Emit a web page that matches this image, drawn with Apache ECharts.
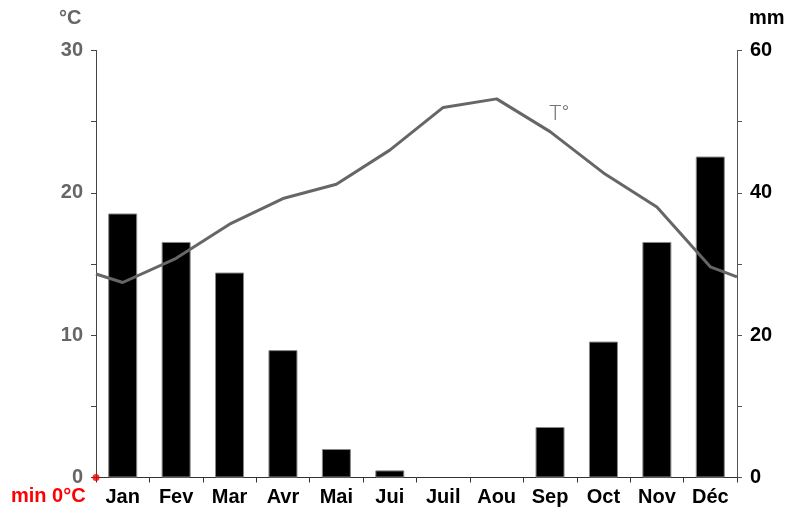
<!DOCTYPE html>
<html>
<head>
<meta charset="utf-8">
<script src="https://cdn.jsdelivr.net/npm/echarts@6/dist/echarts.min.js"></script>
<style>
  html, body { margin: 0; padding: 0; background: #fff; }
  #chart { width: 791px; height: 508px; }
</style>
</head>
<body>
<div id="chart"></div>
<script>
// Climate diagram: monthly precipitation (bars, mm) and mean temperature (line, °C)
const months = ['Jan', 'Fev', 'Mar', 'Avr', 'Mai', 'Jui', 'Juil', 'Aou', 'Sep', 'Oct', 'Nov', 'Déc'];
const precipitation = [37.1, 33.1, 28.8, 17.9, 4.0, 1.0, 0, 0, 7.1, 19.1, 33.1, 45.1];
const temperature = [13.7, 15.4, 17.8, 19.6, 20.6, 23.0, 26.0, 26.6, 24.3, 21.4, 19.0, 14.8];
// temperature at the left and right edges of the year
const tempStart = 14.3;
const tempEnd = 14.1;
const tempMin = 0;
const tempTicks = [0, 10, 20, 30];
const rainTicks = [0, 20, 40, 60];

const font = '"Liberation Sans", Arial, Helvetica, sans-serif';

// line points sit at the middle of each month, plus both year edges
const tempLine = [[0, tempStart]]
  .concat(temperature.map((t, i) => [i + 0.5, t]))
  .concat([[months.length, tempEnd]]);

// dry months get no outline so nothing is drawn on the axis
const rainBars = precipitation.map(v => ({
  value: v,
  itemStyle: v > 0 ? {} : { borderWidth: 0, opacity: 0 }
}));

const chart = echarts.init(document.getElementById('chart'), null, { renderer: 'canvas' });

chart.setOption({
  animation: false,
  grid: { left: 96, right: 54, top: 50.5, bottom: 30.5, containLabel: false },
  xAxis: [
    {
      type: 'category',
      data: months,
      boundaryGap: true,
      axisLine: { show: true, lineStyle: { color: '#333', width: 1 } },
      axisTick: { show: true, alignWithLabel: false, length: 5, lineStyle: { color: '#333' } },
      axisLabel: { color: '#000', fontFamily: font, fontWeight: 'bold', fontSize: 20, margin: 10 },
      splitLine: { show: false }
    },
    {
      type: 'value',
      min: 0,
      max: months.length,
      show: false
    }
  ],
  yAxis: [
    {
      type: 'value',
      min: 0,
      max: 30,
      interval: 5,
      position: 'left',
      axisLine: { show: true, lineStyle: { color: '#444', width: 1 } },
      axisTick: { show: true, inside: false, length: 5, lineStyle: { color: '#444' } },
      axisLabel: {
        color: '#666', fontFamily: font, fontWeight: 'bold', fontSize: 20, margin: 13,
        formatter: v => tempTicks.includes(v) ? String(v) : ''
      },
      splitLine: { show: false }
    },
    {
      type: 'value',
      min: 0,
      max: 60,
      interval: 10,
      position: 'right',
      axisLine: { show: true, lineStyle: { color: '#555', width: 1 } },
      axisTick: { show: true, inside: false, length: 5, lineStyle: { color: '#555' } },
      axisLabel: {
        color: '#000', fontFamily: font, fontWeight: 'bold', fontSize: 20, margin: 13,
        formatter: v => rainTicks.includes(v) ? String(v) : ''
      },
      splitLine: { show: false }
    }
  ],
  series: [
    {
      type: 'bar',
      name: 'mm',
      xAxisIndex: 0,
      yAxisIndex: 1,
      data: rainBars,
      barWidth: 29,
      itemStyle: { color: '#000', borderColor: '#888', borderWidth: 1 }
    },
    {
      type: 'line',
      name: 'T°',
      xAxisIndex: 1,
      yAxisIndex: 0,
      data: tempLine,
      showSymbol: false,
      symbol: 'none',
      lineStyle: { color: '#666', width: 3 },
      z: 5
    },
    {
      type: 'scatter',
      name: 'min',
      xAxisIndex: 1,
      yAxisIndex: 0,
      data: [[0, tempMin]],
      symbol: 'circle',
      symbolSize: 7,
      itemStyle: { color: '#e00' },
      clip: false,
      z: 20,
      zlevel: 1
    }
  ],
  graphic: [
    {
      type: 'text', left: 59, top: 8,
      style: { text: '°C', fill: '#666', font: 'bold 20px ' + font }
    },
    {
      type: 'text', left: 749, top: 8,
      style: { text: 'mm', fill: '#000', font: 'bold 20px ' + font }
    },
    {
      type: 'text', left: 11, top: 486,
      style: { text: 'min ' + tempMin + '°C', fill: '#f00', font: 'bold 20px ' + font }
    },
    {
      type: 'text', left: 549, top: 104,
      style: { text: 'T°', fill: '#777', font: '300 21px Roboto, ' + font }
    }
  ]
});
</script>
</body>
</html>
